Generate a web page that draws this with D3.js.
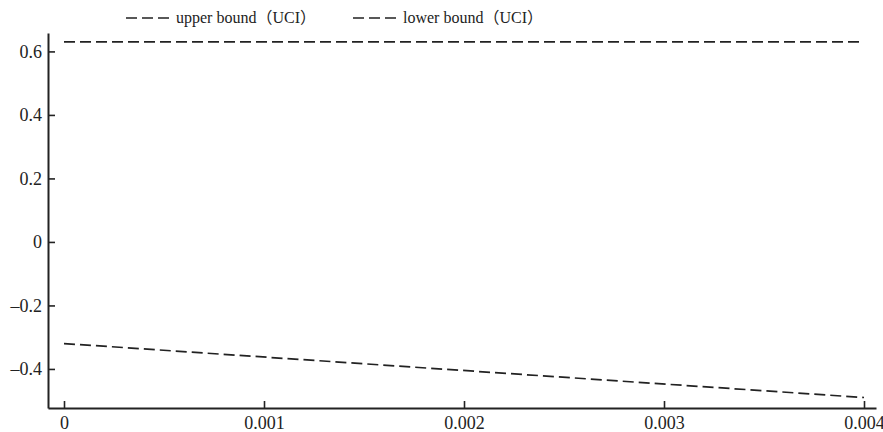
<!DOCTYPE html>
<html><head><meta charset="utf-8">
<script src="https://cdn.jsdelivr.net/npm/d3@7"></script>
<style>body{margin:0;background:#fff}svg{display:block}</style>
</head><body>
<svg id="c" width="883" height="432"></svg>
<script>
const xValues = [0, 0.004];
const upperBound = [0.63, 0.63];
const lowerBound = [-0.32, -0.49];
const seriesNames = ["upper bound（UCI）", "lower bound（UCI）"];
const xTicks = [0, 0.001, 0.002, 0.003, 0.004];
const yTicks = [-0.4, -0.2, 0, 0.2, 0.4, 0.6];

const svg = d3.select("#c");
const font = "'Liberation Serif', 'Noto Sans CJK SC', serif";
const ink = "#222";
const x = d3.scaleLinear().domain([-0.00008, 0.00406]).range([48, 876]);
const y = d3.scaleLinear().domain([-0.523, 0.658]).range([408, 33]);

const fmtY = d => d === 0 ? "0" : (d < 0 ? "–" + Math.abs(d).toFixed(1) : d.toFixed(1));
const fmtX = d => d === 0 ? "0" : d.toFixed(3);

const gx = svg.append("g").attr("transform", "translate(0,408)")
  .call(d3.axisBottom(x).tickValues(xTicks).tickFormat(fmtX).tickSizeInner(-7).tickSizeOuter(0).tickPadding(8));
const gy = svg.append("g").attr("transform", "translate(48,0)")
  .call(d3.axisLeft(y).tickValues(yTicks).tickFormat(fmtY).tickSizeInner(-7).tickSizeOuter(0).tickPadding(6));
[gx, gy].forEach(g => {
  g.attr("font-family", font).attr("font-size", 18);
  g.select(".domain").attr("stroke", ink).attr("stroke-width", 2);
  g.selectAll(".tick line").attr("stroke", ink).attr("stroke-width", 1.6);
  g.selectAll("text").attr("fill", ink);
});

const line = d3.line().x(d => x(d[0])).y(d => y(d[1]));
[upperBound, lowerBound].forEach(vals => {
  svg.append("path").datum(xValues.map((v, i) => [v, vals[i]]))
    .attr("d", line).attr("fill", "none").attr("stroke", ink)
    .attr("stroke-width", 1.7).attr("stroke-dasharray", "11,5");
});

const legX = [126, 353];
seriesNames.forEach((n, i) => {
  const g = svg.append("g").attr("transform", `translate(${legX[i]},18)`);
  g.append("line").attr("x1", 0).attr("x2", 43).attr("y1", 0).attr("y2", 0)
    .attr("stroke", ink).attr("stroke-width", 1.7).attr("stroke-dasharray", "11,5");
  g.append("text").attr("x", 50).attr("y", 5).text(n)
    .attr("fill", ink).attr("font-family", font).attr("font-size", 16);
});
</script>
</body></html>
